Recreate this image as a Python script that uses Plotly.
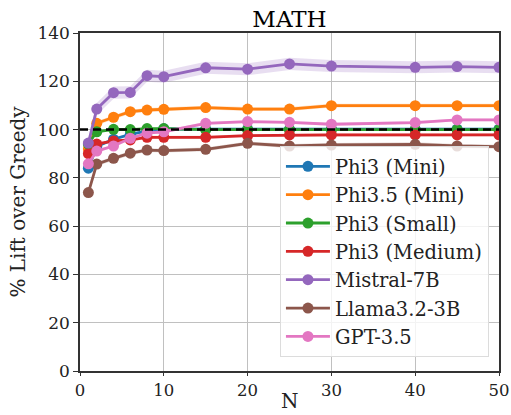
import plotly.graph_objects as go

N = [1, 2, 4, 6, 8, 10, 15, 20, 25, 30, 40, 45, 50]

series_names = ["Phi3 (Mini)", "Phi3.5 (Mini)", "Phi3 (Small)", "Phi3 (Medium)",
                "Mistral-7B", "Llama3.2-3B", "GPT-3.5"]
colors = ["#1f77b4", "#ff7f0e", "#2ca02c", "#d62728", "#9467bd", "#8c564b", "#e377c2"]

phi3_mini = [84.0, 93.0, 96.0, 98.0, 99.5, 100.3, 100.2, 100.2, 100.1, 100.2, 100.1, 100.2, 100.2]
phi35_mini = [92.0, 102.6, 105.1, 107.4, 108.1, 108.4, 109.1, 108.5, 108.5, 109.9, 109.9, 109.9, 109.9]
phi3_small = [94.0, 99.1, 100.1, 100.0, 100.4, 100.4, 100.0, 100.0, 100.0, 100.0, 100.0, 100.0, 100.0]
phi3_medium = [90.0, 94.0, 95.3, 95.7, 96.8, 96.8, 96.8, 97.5, 97.8, 97.8, 97.8, 97.8, 97.8]
mistral_7b = [94.4, 108.5, 115.3, 115.4, 122.3, 121.9, 125.6, 125.0, 127.2, 126.3, 125.8, 126.1, 125.8]
llama_3b = [73.9, 85.7, 88.1, 90.2, 91.5, 91.3, 91.8, 94.3, 93.2, 93.6, 93.9, 93.2, 92.9]
gpt35 = [85.8, 91.1, 93.2, 96.4, 98.5, 99.1, 102.6, 103.3, 103.0, 102.2, 102.9, 104.0, 104.0]

band_half = [0.6, 0.8, 0.5, 0.6, 2.5, 0.8, 0.6]

all_series = [phi3_mini, phi35_mini, phi3_small, phi3_medium, mistral_7b, llama_3b, gpt35]

greedy_x = [0, 50]
greedy_y = [100, 100]

SERIF = "DejaVu Serif"

fig = go.Figure()

def rgba(hexc, a):
    h = hexc.lstrip("#")
    r, g, b = int(h[0:2], 16), int(h[2:4], 16), int(h[4:6], 16)
    return f"rgba({r},{g},{b},{a})"

# shaded bands
for vals, c, bh in zip(all_series, colors, band_half):
    upper = [v + bh for v in vals]
    lower = [v - bh for v in vals]
    fig.add_trace(go.Scatter(x=N + N[::-1], y=upper + lower[::-1], fill="toself",
                             fillcolor=rgba(c, 0.22), line=dict(width=0),
                             hoverinfo="skip", showlegend=False, mode="lines"))

for i, (name, vals, c) in enumerate(zip(series_names, all_series, colors)):
    fig.add_trace(go.Scatter(x=N, y=vals, name=name, mode="lines+markers",
                             line=dict(color=c, width=2.8),
                             marker=dict(color=c, size=11),
                             legendgroup=f"g{i}"))

fig.add_trace(go.Scatter(x=greedy_x, y=greedy_y, mode="lines",
                         line=dict(color="black", width=2.6, dash="8px,5px"),
                         showlegend=False))

fig.update_layout(
    width=511, height=415,
    margin=dict(l=80, r=12, t=33, b=44, autoexpand=False),
    paper_bgcolor="white", plot_bgcolor="white",
    title=dict(text="MATH", x=(80 + 499) / 2 / 511, xanchor="center",
               y=1 - 19 / 415, yanchor="middle",
               font=dict(family=SERIF, size=23, color="black")),
    font=dict(family=SERIF, color="black"),
    legend=dict(x=0.976, y=0.041, xanchor="right", yanchor="bottom",
                bgcolor="rgba(255,255,255,0.8)", bordercolor="#dcdcdc", borderwidth=1,
                font=dict(family=SERIF, size=19.5, color="#222"),
                traceorder="grouped", tracegroupgap=0, itemwidth=44),
    showlegend=True,
    annotations=[dict(text="N", xref="paper", yref="paper", x=0.5, y=-30 / 338,
                      xanchor="center", yanchor="middle", showarrow=False,
                      font=dict(family=SERIF, size=20, color="#222"))],
)

fig.update_xaxes(range=[0, 50], tickvals=[0, 10, 20, 30, 40, 50],
                 automargin=False,
                 showgrid=True, gridcolor="#c0c0c0", gridwidth=1,
                 showline=True, linecolor="#333", linewidth=1.5, mirror=True,
                 ticks="outside", ticklen=3, tickcolor="#333",
                 tickfont=dict(family=SERIF, size=16.5, color="#222"),
                 zeroline=False)
fig.update_yaxes(range=[0, 140], tickvals=[0, 20, 40, 60, 80, 100, 120, 140],
                 automargin=False,
                 showgrid=True, gridcolor="#c0c0c0", gridwidth=1,
                 showline=True, linecolor="#333", linewidth=1.5, mirror=True,
                 ticks="outside", ticklen=5, tickcolor="#333",
                 tickfont=dict(family=SERIF, size=17, color="#222"),
                 zeroline=False,
                 title=dict(text="% Lift over Greedy", font=dict(family=SERIF, size=20, color="#222"), standoff=6))

fig.write_html("out.html")
